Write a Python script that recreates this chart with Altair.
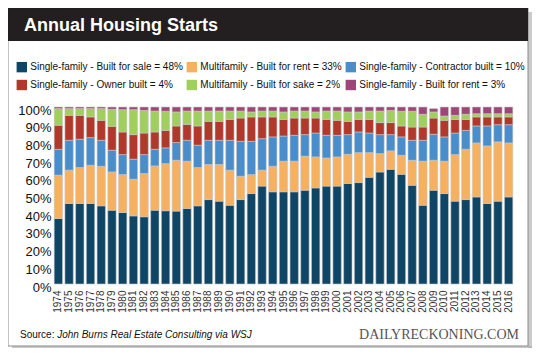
import altair as alt
import pandas as pd

years = list(range(1974, 2017))

sf_sale = [37.0, 45.5, 45.5, 45.5, 44.2, 41.7, 40.4, 38.5, 38.0, 41.7,
           41.4, 41.2, 42.7, 44.2, 47.7, 46.8, 44.5, 47.7, 51.1, 55.3,
           52.1, 52.1, 52.1, 53.0, 54.3, 55.3, 55.3, 56.8, 57.3, 60.3,
           63.3, 64.8, 62.0, 55.8, 44.5, 53.0, 51.1, 46.8, 47.7, 49.2,
           45.5, 46.8, 49.2]
mf_rent = [24.5, 18.8, 20.3, 21.6, 22.3, 21.6, 21.4, 20.7, 24.4, 25.0,
           26.6, 28.7, 26.7, 21.6, 19.8, 20.7, 19.8, 13.2, 10.7, 9.0,
           14.4, 17.3, 17.3, 19.2, 17.5, 15.9, 16.5, 16.5, 16.9, 13.9,
           10.4, 10.4, 10.7, 14.1, 24.9, 16.9, 18.3, 26.3, 28.4, 30.5,
           32.5, 33.5, 30.5]
sf_contractor = [14.6, 16.9, 16.0, 15.6, 14.7, 12.3, 11.3, 11.3, 10.7, 9.4,
                 8.9, 10.0, 11.8, 12.6, 13.7, 13.7, 16.9, 19.7, 18.8, 17.8,
                 16.6, 14.2, 14.6, 12.2, 13.5, 12.8, 12.2, 11.1, 11.7, 11.1,
                 10.7, 9.2, 10.4, 11.3, 11.8, 14.7, 13.7, 12.2, 10.7, 9.6,
                 11.3, 9.7, 10.3]
sf_owner = [13.6, 14.1, 13.5, 11.7, 11.3, 13.5, 12.8, 13.9, 12.2, 9.8,
            9.9, 9.4, 9.0, 10.9, 10.7, 10.7, 11.8, 13.2, 13.8, 12.3,
            11.3, 9.4, 9.8, 9.4, 8.5, 9.0, 8.5, 7.5, 7.1, 7.7,
            6.8, 6.8, 6.2, 7.5, 7.5, 9.2, 9.4, 7.7, 6.2, 5.1,
            5.1, 4.4, 4.4]
mf_sale = [9.4, 3.8, 3.8, 4.7, 6.6, 9.6, 12.6, 14.1, 12.8, 11.8,
           10.8, 7.9, 7.5, 8.4, 5.8, 5.8, 4.7, 3.9, 2.8, 3.3,
           3.3, 4.2, 3.9, 3.9, 3.4, 4.7, 5.2, 5.3, 4.2, 4.7,
           6.5, 6.9, 8.3, 8.9, 7.2, 3.4, 2.4, 2.3, 2.9, 1.8,
           1.8, 1.8, 1.8]
sf_rent = [0.9, 0.9, 0.9, 0.9, 0.9, 1.3, 1.5, 1.5, 1.9, 2.3,
           2.4, 2.8, 2.3, 2.3, 2.3, 2.3, 2.3, 2.3, 2.8, 2.3,
           2.3, 2.8, 2.3, 2.3, 2.8, 2.3, 2.3, 2.8, 2.8, 2.3,
           2.3, 1.9, 2.4, 2.4, 4.1, 1.9, 5.1, 4.7, 4.1, 3.8,
           3.8, 3.8, 3.8]

series_labels = [
    "Single-family - Built for sale = 48%",
    "Multifamily - Built for rent = 33%",
    "Single-family - Contractor built = 10%",
    "Single-family - Owner built = 4%",
    "Multifamily - Built for sake = 2%",
    "Single-family - Built for rent = 3%",
]
series_colors = ["#0f4565", "#f5b160", "#4a8dcb", "#b1392b", "#a1cf5d", "#9d4677"]
series_values = [sf_sale, mf_rent, sf_contractor, sf_owner, mf_sale, sf_rent]

y_ticks = [0, 10, 20, 30, 40, 50, 60, 70, 80, 90, 100]

title_text = "Annual Housing Starts"
source_label = "Source:"
source_text = "John Burns Real Estate Consulting via WSJ"
brand_text = "DAILYRECKONING.COM"

rows = []
for i, yr in enumerate(years):
    for k, (lab, vals) in enumerate(zip(series_labels, series_values)):
        rows.append({"year": yr, "series": lab, "value": vals[i], "order": k})
df = pd.DataFrame(rows)

FONT = "Liberation Sans"
one = alt.Data(values=[{"a": 1}])


def rect(x, x2, y, y2, **kw):
    return alt.Chart(one).mark_rect(**kw).encode(
        x=alt.value(x), x2=alt.value(x2), y=alt.value(y), y2=alt.value(y2))


def label(text, x, y, **kw):
    return alt.Chart(one).mark_text(text=text, **kw).encode(
        x=alt.value(x), y=alt.value(y))


shadow_r = rect(475, 479, -95, 243, fill="#a8a8a8", opacity=0.6)
shadow_b = rect(-41, 479, 239, 243, fill="#a8a8a8", opacity=0.6)
card = rect(-45, 475, -99, 239, fill="white", stroke="#8a8a8a", strokeWidth=1)
header = rect(-45, 475, -99, -66, fill="#231f20")
title = label(title_text, -29, -76.5, align="left", baseline="alphabetic",
              font=FONT, fontSize=18, fontWeight="bold", color="white")

bars = alt.Chart(df).mark_bar(stroke="#c8c8c8", strokeWidth=0.6).encode(
    x=alt.X("year:O", title=None,
            scale=alt.Scale(paddingInner=0.22, paddingOuter=0.11),
            axis=alt.Axis(labelAngle=270, labelFontSize=10, labelPadding=6,
                          ticks=False, domain=False, labelColor="#333",
                          zindex=1)),
    y=alt.Y("value:Q", stack="zero", title=None,
            scale=alt.Scale(domain=[0, 100], nice=False),
            axis=alt.Axis(values=y_ticks, labelExpr="datum.value + '%'",
                          labelFontSize=13, ticks=False, domain=False,
                          grid=False, labelPadding=2, labelOffset=3,
                          labelColor="#111", zindex=1)),
    color=alt.Color("series:N",
                    scale=alt.Scale(domain=series_labels, range=series_colors),
                    legend=alt.Legend(title=None, orient="none",
                                      legendX=-36.7, legendY=-45.5,
                                      direction="horizontal", columns=3,
                                      symbolType="square", symbolSize=108,
                                      symbolStrokeWidth=0, labelFontSize=10,
                                      labelOffset=3, columnPadding=3,
                                      rowPadding=7, labelLimit=400,
                                      labelColor="#111", zindex=1)),
    order=alt.Order("order:Q", sort="ascending"),
)

src1 = label(source_label, -33, 227.7, align="left", baseline="middle",
             font=FONT, fontSize=10, color="#111")
src2 = label(source_text, 4.2, 227.7, align="left", baseline="middle",
             font=FONT, fontSize=10, fontStyle="italic", color="#111")
brand = label(brand_text, 466, 227.7, align="right", baseline="middle",
              font="Liberation Serif", fontSize=14, color="#555555")

chart = alt.layer(shadow_r, shadow_b, card, header, title, bars, src1, src2, brand).properties(
    width=461, height=177,
    autosize=alt.AutoSizeParams(type="none"),
    padding={"left": 45, "top": 99, "right": 18, "bottom": 64},
).configure_view(stroke=None).configure(font=FONT, background="white")

chart.save("out.html", embed_options={"renderer": "svg", "actions": False})
